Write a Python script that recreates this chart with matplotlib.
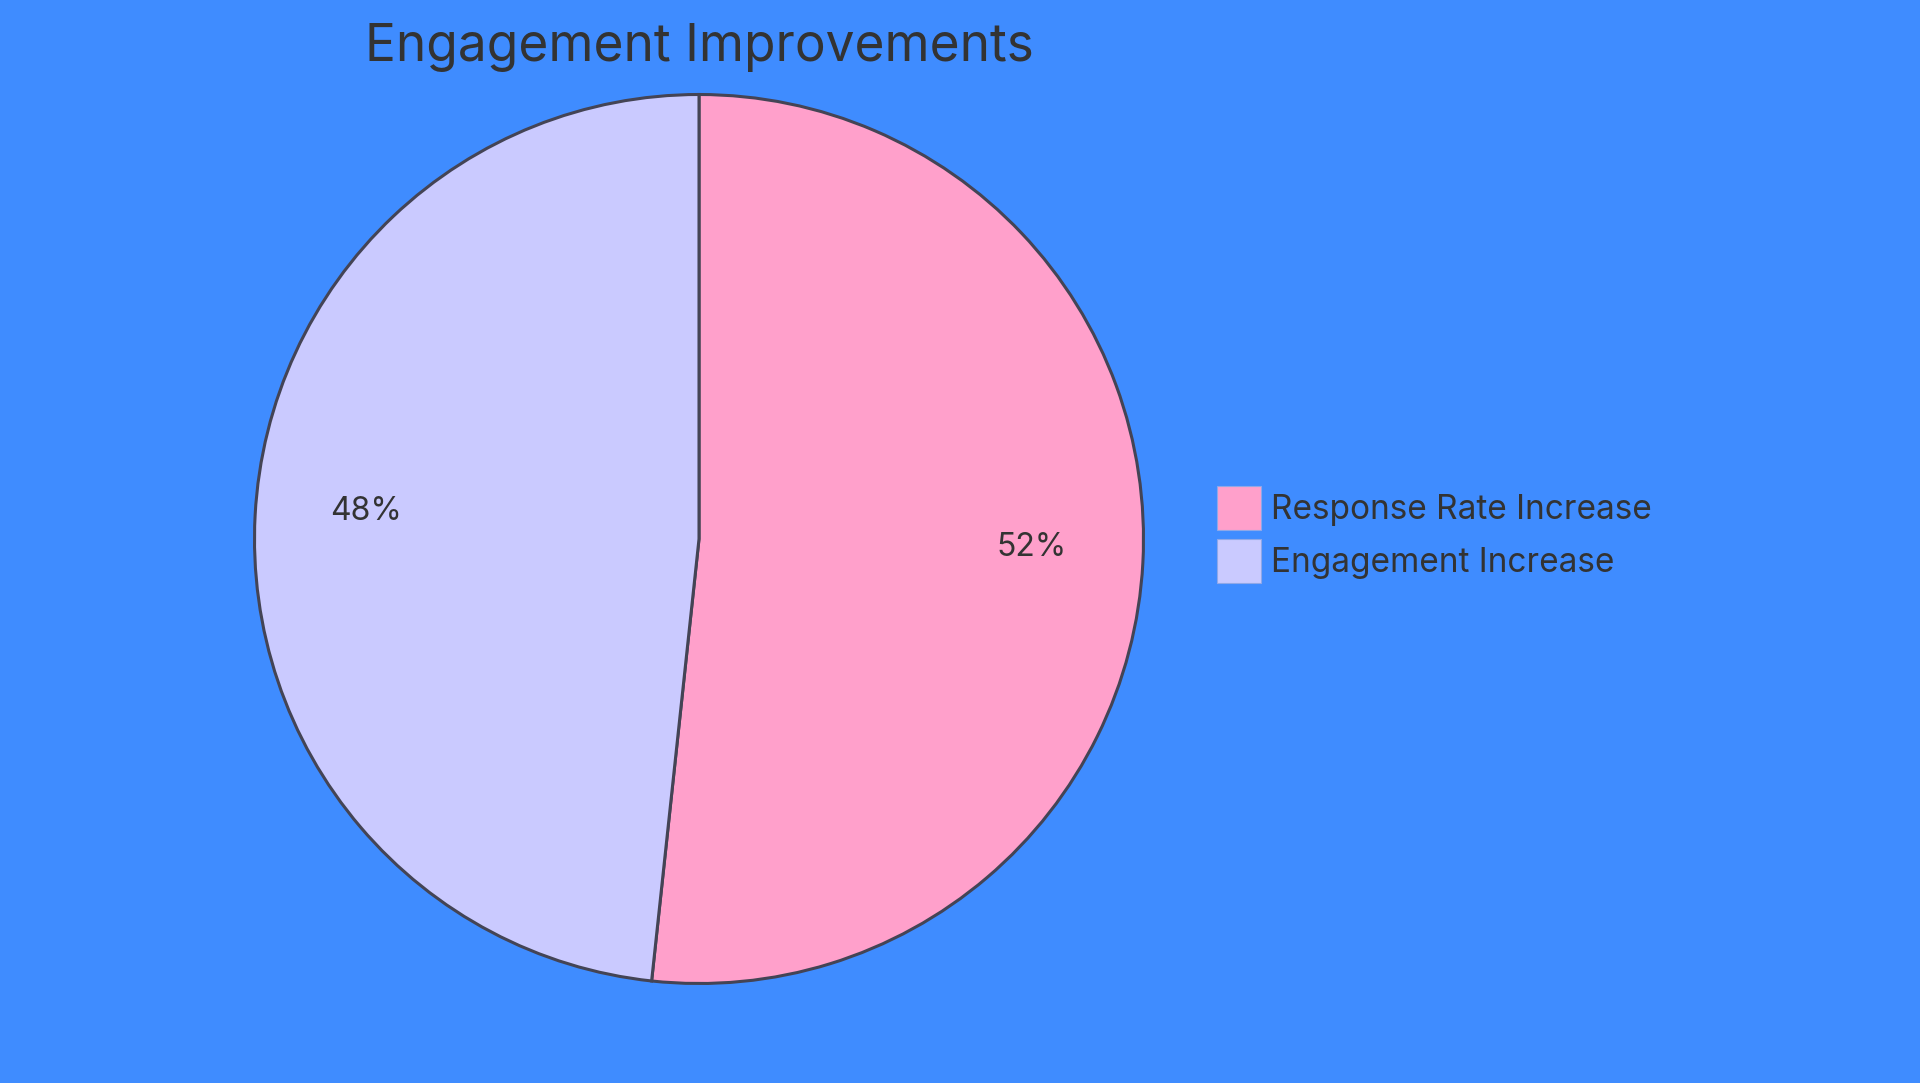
import matplotlib.pyplot as plt
from matplotlib.patches import Patch

labels = ['Response Rate Increase', 'Engagement Increase']
values = [51.7, 48.3]
colors = ['#FFA0CB', '#CACAFF']

W, H = 1920, 1083
cx, cy, r = 699, 539, 444.5
lim = 1.05

plt.rcParams['font.family'] = ['Inter', 'DejaVu Sans']

fig = plt.figure(figsize=(W / 100, H / 100), dpi=100)
fig.patch.set_facecolor('#3F8CFF')

side = 2 * r * lim
ax = fig.add_axes([(cx - side / 2) / W, 1 - (cy + side / 2) / H, side / W, side / H])
ax.set_facecolor('none')

wedges, texts, autotexts = ax.pie(
    values, colors=colors, startangle=90, counterclock=False,
    autopct='%1.0f%%', pctdistance=0.75, radius=1,
    wedgeprops=dict(edgecolor='#444455', linewidth=2.2),
    textprops=dict(color='#333333', fontsize=23),
)
# labels sit slightly above the arc centroid
for t in autotexts:
    x, y = t.get_position()
    t.set_position((x, y + 0.021))

ax.set_xlim(-lim, lim)
ax.set_ylim(-lim, lim)
ax.set_aspect('equal')
ax.axis('off')

fig.text(cx / W, 1 - 47 / H, 'Engagement Improvements', ha='center', va='center',
         fontsize=37, color='#333333')

handles = [Patch(facecolor=c, edgecolor='#8FA8E8', linewidth=0.8) for c in colors]
fig.legend(handles, labels, loc='upper left', bbox_to_anchor=(1217 / W, 1 - 486 / H),
           frameon=False, fontsize=24, handlelength=1.32, handleheight=1.67,
           handletextpad=0.3, labelspacing=0.26, borderpad=0, borderaxespad=0,
           labelcolor='#333333')

fig.savefig('out.png', dpi=100, facecolor=fig.get_facecolor())
